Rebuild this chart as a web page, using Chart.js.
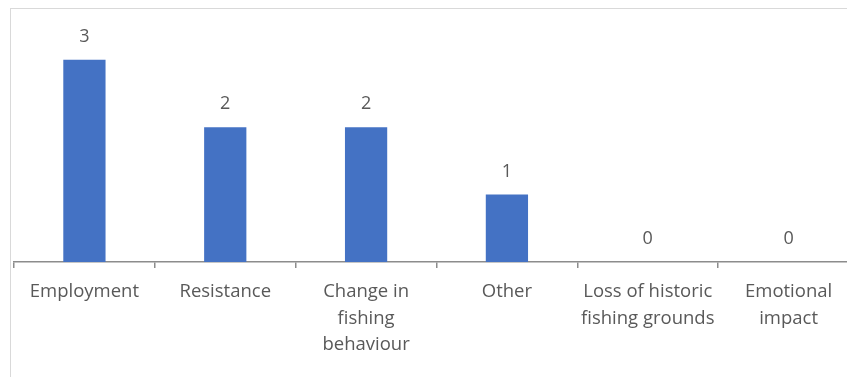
<!DOCTYPE html>
<html>
<head>
  <meta charset="UTF-8">
  <title>Impacts</title>
  <script src="https://cdn.jsdelivr.net/npm/chart.js"></script>
  <style>
    html, body { margin: 0; padding: 0; background: #fff; overflow: hidden; width: 847px; height: 377px; }
    #frame { position: absolute; left: 10px; top: 8px; width: 900px; height: 420px; border: 1px solid #d9d9d9; }
    #box { position: absolute; left: 0; top: 0; width: 851px; height: 368px; }
  </style>
</head>
<body>
  <div id="frame"><div id="box"><canvas id="chart"></canvas></div></div>

<script>
const categories = ['Employment', 'Resistance', ['Change in', 'fishing', 'behaviour'], 'Other', ['Loss of historic', 'fishing grounds'], ['Emotional', 'impact']];
const counts = [3, 2, 2, 1, 0, 0];

const textGrey = '#595959';
const fontFamily = "'Open Sans', 'Liberation Sans', sans-serif";

// draws the value above each bar
const valueLabels = {
  id: 'valueLabels',
  afterDatasetsDraw(chart) {
    const ctx = chart.ctx;
    const meta = chart.getDatasetMeta(0);
    ctx.save();
    ctx.fillStyle = textGrey;
    ctx.font = '18px ' + fontFamily;
    ctx.textAlign = 'center';
    ctx.textBaseline = 'middle';
    meta.data.forEach((bar, i) => {
      ctx.fillText(counts[i], bar.x, bar.y - 23);
    });
    ctx.restore();
  }
};

new Chart(document.getElementById('chart'), {
  type: 'bar',
  data: {
    labels: categories,
    datasets: [{
      data: counts,
      backgroundColor: '#4472C4',
      barPercentage: 0.3,
      categoryPercentage: 1
    }]
  },
  options: {
    responsive: true,
    maintainAspectRatio: false,
    animation: false,
    layout: { padding: { left: 3, right: 3, top: 17, bottom: 5 } },
    plugins: { legend: { display: false }, tooltip: { enabled: false } },
    scales: {
      y: { display: false, min: 0, max: 3.5 },
      x: {
        afterFit(scale) { scale.height = 110; },
        border: { display: true, color: '#8c8c8c', width: 1.5 },
        grid: { drawOnChartArea: false, drawTicks: true, tickLength: 6, color: '#8c8c8c', lineWidth: 1.5 },
        ticks: {
          color: textGrey,
          maxRotation: 0,
          autoSkip: false,
          padding: 11,
          font: { family: fontFamily, size: 18.5, lineHeight: 1.42 }
        }
      }
    }
  },
  plugins: [valueLabels]
});
</script>
</body>
</html>
